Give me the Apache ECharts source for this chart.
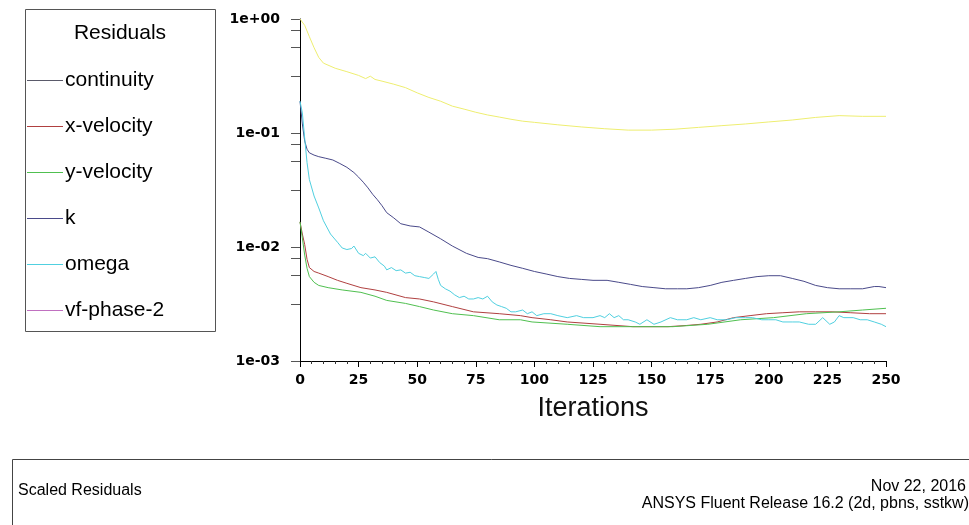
<!DOCTYPE html>
<html>
<head>
<meta charset="utf-8">
<script src="https://cdn.jsdelivr.net/npm/echarts@6/dist/echarts.min.js"></script>
<style>
  html, body { margin: 0; padding: 0; background: #ffffff; }
  #chart { width: 969px; height: 525px; }
</style>
</head>
<body>
<div id="chart"></div>
<script>
// Scaled residual histories (iteration, residual) per equation
const continuityIter = [0, 2, 4, 6, 8, 10, 15, 20, 25, 28, 30, 32, 35, 40, 45, 50, 55, 60, 65, 70, 75, 80, 85, 90, 95, 100, 110, 120, 130, 140, 150, 160, 170, 180, 190, 200, 210, 220, 230, 240, 250];
const continuityVal  = [1.0, 0.88, 0.7, 0.56, 0.46, 0.41, 0.37, 0.345, 0.32, 0.30, 0.315, 0.295, 0.285, 0.268, 0.25, 0.225, 0.205, 0.19, 0.172, 0.162, 0.152, 0.144, 0.138, 0.132, 0.127, 0.124, 0.118, 0.113, 0.109, 0.106, 0.106, 0.108, 0.112, 0.116, 0.12, 0.125, 0.13, 0.137, 0.142, 0.14, 0.14];

const xVelIter = [0, 1, 2, 3, 4, 6, 8, 12, 16, 20, 26, 32, 37, 45, 51, 57, 65, 74, 85, 94, 99, 107, 114, 128, 142, 157, 165, 171, 178, 185, 192, 199, 206, 213, 220, 227, 235, 243, 250];
const xVelVal  = [0.0166, 0.013, 0.0105, 0.0078, 0.0066, 0.0061, 0.0059, 0.0055, 0.0051, 0.0048, 0.0044, 0.0042, 0.0040, 0.0036, 0.0035, 0.0033, 0.0030, 0.0027, 0.0026, 0.0025, 0.0024, 0.0023, 0.0022, 0.0021, 0.0020, 0.0020, 0.00205, 0.0021, 0.0022, 0.0024, 0.0025, 0.0026, 0.00265, 0.0027, 0.0027, 0.0027, 0.00265, 0.0026, 0.0026];

const yVelIter = [0, 1, 2, 3, 4, 6, 8, 12, 18, 26, 32, 37, 45, 51, 57, 65, 74, 85, 94, 99, 114, 128, 145, 159, 174, 188, 202, 216, 230, 240, 250];
const yVelVal  = [0.0166, 0.012, 0.0085, 0.0065, 0.0055, 0.0049, 0.0046, 0.0044, 0.0042, 0.0040, 0.0037, 0.0034, 0.0032, 0.0030, 0.0028, 0.0026, 0.0025, 0.0023, 0.0023, 0.0022, 0.0021, 0.0020, 0.0020, 0.0020, 0.0021, 0.0023, 0.0024, 0.0026, 0.0027, 0.0028, 0.0029];

const kIter = [0, 1, 2, 3, 4, 6, 8, 11, 14, 17, 20, 23, 25, 27, 29, 31, 33, 35, 37, 40, 43, 47, 51, 55, 60, 65, 71, 76, 80, 85, 90, 95, 100, 105, 110, 115, 120, 125, 131, 136, 141, 146, 151, 156, 161, 165, 170, 175, 180, 185, 190, 195, 200, 205, 210, 215, 220, 225, 230, 235, 240, 245, 247, 250];
const kVal  = [0.19, 0.12, 0.085, 0.072, 0.067, 0.064, 0.062, 0.060, 0.058, 0.054, 0.050, 0.045, 0.041, 0.037, 0.033, 0.029, 0.026, 0.023, 0.020, 0.018, 0.016, 0.0153, 0.015, 0.0135, 0.0118, 0.0102, 0.0088, 0.0081, 0.0079, 0.0074, 0.0069, 0.0065, 0.0061, 0.0058, 0.0055, 0.0053, 0.0052, 0.0051, 0.0051, 0.0049, 0.0047, 0.0045, 0.0044, 0.0043, 0.0043, 0.0043, 0.0044, 0.0046, 0.0049, 0.0051, 0.0053, 0.0055, 0.0056, 0.0056, 0.0053, 0.0050, 0.0046, 0.0044, 0.0043, 0.0043, 0.0043, 0.0045, 0.0045, 0.0044];

const omegaIter = [0, 1, 2, 3, 4, 6, 8, 10, 13, 16, 18, 20, 22, 23, 25, 27, 28, 30, 32, 34, 36, 37, 39, 41, 43, 45, 47, 49, 51, 53, 55, 57, 58, 59, 60, 62, 64, 66, 68, 70, 72, 74, 76, 78, 80, 82, 84, 86, 88, 90, 92, 95, 97, 99, 101, 104, 107, 110, 114, 118, 121, 125, 128, 130, 132, 134, 136, 138, 140, 143, 145, 148, 151, 154, 158, 161, 165, 168, 171, 175, 178, 182, 186, 190, 193, 197, 200, 203, 206, 210, 213, 217, 220, 223, 226, 228, 230, 232, 236, 239, 242, 245, 248, 250];
const omegaVal  = [0.19, 0.15, 0.09, 0.055, 0.039, 0.028, 0.022, 0.017, 0.013, 0.011, 0.0098, 0.0095, 0.0097, 0.0102, 0.0088, 0.0084, 0.0088, 0.0080, 0.0082, 0.0073, 0.0068, 0.0063, 0.0066, 0.0062, 0.0063, 0.0059, 0.0060, 0.0056, 0.0055, 0.0054, 0.0053, 0.0058, 0.0061, 0.0052, 0.0046, 0.0043, 0.0041, 0.0038, 0.0036, 0.0037, 0.0035, 0.0035, 0.0036, 0.0035, 0.0037, 0.0033, 0.0031, 0.0030, 0.0029, 0.0027, 0.0027, 0.0028, 0.0026, 0.0027, 0.0025, 0.0026, 0.0026, 0.0025, 0.0024, 0.0025, 0.0024, 0.0024, 0.0025, 0.0024, 0.0026, 0.0024, 0.0025, 0.0023, 0.0023, 0.0022, 0.0021, 0.0023, 0.0021, 0.0022, 0.0024, 0.0023, 0.0023, 0.0024, 0.0023, 0.0024, 0.0023, 0.0023, 0.0024, 0.0024, 0.0024, 0.0023, 0.0023, 0.0023, 0.0022, 0.0022, 0.0022, 0.0021, 0.0021, 0.0024, 0.0021, 0.0022, 0.0025, 0.0024, 0.0024, 0.0023, 0.0023, 0.0022, 0.0021, 0.0020];

const vfPhaseIter = [];
const vfPhaseVal  = [];

const legendNames  = ['continuity', 'x-velocity', 'y-velocity', 'k', 'omega', 'vf-phase-2'];
const legendColors = ['#5a5a6a', '#b04040', '#50c050', '#4a4a8a', '#50d0e0', '#c070c0'];
const xTicks = [0, 250, 25];            // min, max, step
const yDecades = [0.001, 0.01, 0.1, 1]; // labelled decades

const pairs = (xs, ys) => xs.map((x, i) => [x, ys[i]]);

// minor ticks inside each decade, plus the decade ticks themselves
const yTickValues = [];
yDecades.forEach((d, i) => {
  yTickValues.push(d);
  if (i > 0) {
    [0.1, 0.25, 0.5].forEach(f => yTickValues.push(d * Math.pow(10, -f)));
  }
});

const expLabel = v => {
  const e = Math.round(Math.log10(v));
  return '1e' + (e < 0 ? '-' : '+') + String(Math.abs(e)).padStart(2, '0');
};

const chart = echarts.init(document.getElementById('chart'), null, { renderer: 'canvas' });

const lineSeries = (name, xs, ys, color) => ({
  name, type: 'line', data: pairs(xs, ys),
  symbol: 'none', showSymbol: false, smooth: false,
  lineStyle: { color, width: 1 }, itemStyle: { color },
  emphasis: { disabled: true }
});

chart.setOption({
  animation: false,
  backgroundColor: '#ffffff',
  grid: { left: 300, right: 83, top: 19, bottom: 164, containLabel: false },
  xAxis: {
    type: 'value', min: xTicks[0], max: xTicks[1], interval: xTicks[2],
    name: 'Iterations', nameLocation: 'middle', nameGap: 34,
    nameTextStyle: { fontFamily: 'Liberation Sans', fontSize: 27, color: '#111' },
    axisLine: { show: true, onZero: false, lineStyle: { color: '#000', width: 1 } },
    axisTick: { show: true, inside: false, length: 6, lineStyle: { color: '#000' } },
    minorTick: { show: true, splitNumber: 5, length: 3, lineStyle: { color: '#333' } },
    axisLabel: { margin: 12, fontFamily: 'DejaVu Sans', fontWeight: 'bold', fontSize: 14, color: '#000' },
    splitLine: { show: false }
  },
  yAxis: {
    type: 'log', logBase: 10, min: 0.001, max: 1,
    axisLine: { show: true, onZero: false, lineStyle: { color: '#000', width: 1 } },
    axisTick: { show: true, inside: false, length: 9, customValues: yTickValues, lineStyle: { color: '#555' } },
    axisLabel: { margin: 20, customValues: yDecades, formatter: expLabel,
      fontFamily: 'DejaVu Sans', fontWeight: 'bold', fontSize: 14, color: '#000' },
    splitLine: { show: false }
  },
  legend: {
    show: true, orient: 'vertical', left: 27, top: 70, padding: 0,
    itemWidth: 36, itemHeight: 1, itemGap: 25, icon: 'rect',
    textStyle: { fontFamily: 'Liberation Sans', fontSize: 21, lineHeight: 21, color: '#000', padding: [0, 0, 0, -3] },
    selectedMode: false,
    data: legendNames.map((name, i) => ({ name, itemStyle: { color: legendColors[i] } }))
  },
  graphic: [
    { type: 'rect', shape: { x: 25.5, y: 9.5, width: 190, height: 322 },
      style: { fill: 'none', stroke: '#555', lineWidth: 1 }, silent: true },
    { type: 'text', x: 120, y: 33, style: { text: 'Residuals', fontFamily: 'Liberation Sans', fontSize: 21,
      fill: '#000', align: 'center', verticalAlign: 'middle' }, silent: true },
    { type: 'rect', shape: { x: 12.5, y: 459.5, width: 1000, height: 100 },
      style: { fill: 'none', stroke: '#444', lineWidth: 1 }, silent: true },
    { type: 'text', x: 18, y: 491, style: { text: 'Scaled Residuals', fontFamily: 'Liberation Sans', fontSize: 16,
      fill: '#000', align: 'left', verticalAlign: 'middle' }, silent: true },
    { type: 'text', x: 966, y: 487, style: { text: 'Nov 22, 2016', fontFamily: 'Liberation Sans', fontSize: 16,
      fill: '#000', align: 'right', verticalAlign: 'middle' }, silent: true },
    { type: 'text', x: 969, y: 504, style: { text: 'ANSYS Fluent Release 16.2 (2d, pbns, sstkw)', fontFamily: 'Liberation Sans', fontSize: 16,
      fill: '#000', align: 'right', verticalAlign: 'middle' }, silent: true }
  ],
  series: [
    lineSeries('continuity', continuityIter, continuityVal, '#eeee70'),
    lineSeries('x-velocity', xVelIter, xVelVal, '#b04040'),
    lineSeries('y-velocity', yVelIter, yVelVal, '#50c050'),
    lineSeries('k', kIter, kVal, '#4a4a8a'),
    lineSeries('omega', omegaIter, omegaVal, '#50d0e0'),
    lineSeries('vf-phase-2', vfPhaseIter, vfPhaseVal, '#c070c0')
  ]
});
</script>
</body>
</html>
